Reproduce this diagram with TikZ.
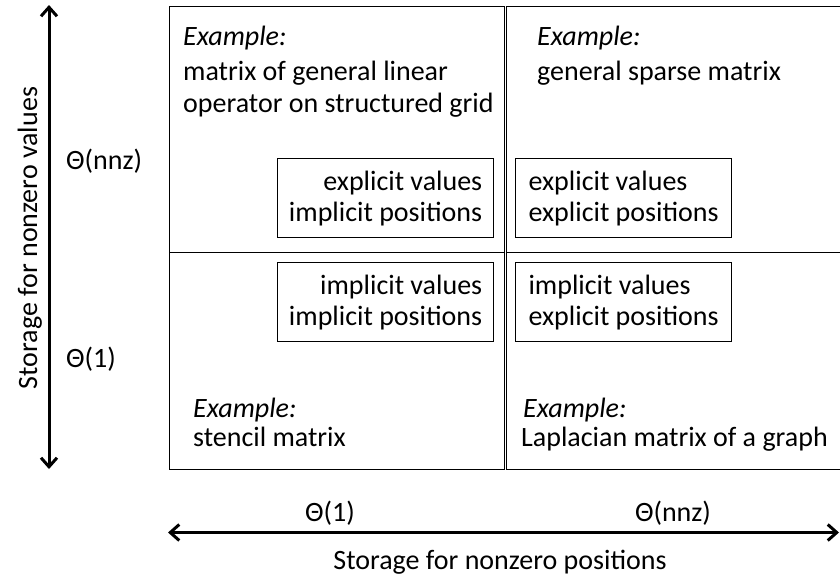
\documentclass[tikz,border=0pt]{standalone}
\usepackage{fontspec}
\setmainfont{Carlito}
\usetikzlibrary{arrows.meta}
\begin{document}
\begin{tikzpicture}[x=1pt,y=-1pt,
  quad/.style={draw, line width=1.2pt, rectangle, inner sep=0pt},
  valbox/.style={draw, line width=1.2pt, rectangle, minimum width=216pt, minimum height=79pt, inner sep=4pt, font=\fontsize{28}{31}\selectfont},
  lbl/.style={inner sep=0pt, font=\fontsize{28}{33}\selectfont},
  axis/.style={line width=3pt, {Straight Barb[length=9pt,width=16pt,line width=3pt]}-{Straight Barb[length=9pt,width=16pt,line width=3pt]}}
]
\useasboundingbox (0,0) rectangle (840,576);
\fill[white] (0,0) rectangle (840,576);
% quadrants
\node[quad, minimum width=335.5pt, minimum height=246.5pt, anchor=north west] (tl) at (168.5,5.5) {};
\node[quad, minimum width=335.5pt, minimum height=216.5pt, anchor=north west] (bl) at (168.5,252) {};
\node[quad, minimum width=344pt, minimum height=246.5pt, anchor=north west] (tr) at (506,5.5) {};
\node[quad, minimum width=344pt, minimum height=216.5pt, anchor=north west] (br) at (506,252) {};
% inner boxes
\node[valbox, align=right, anchor=north west] (b1) at (277,158) {explicit values\\implicit positions};
\node[valbox, align=left, anchor=north west] (b2) at (515,158) {explicit values\\explicit positions};
\node[valbox, align=right, anchor=north west] (b3) at (277,262) {implicit values\\implicit positions};
\node[valbox, align=left, anchor=north west] (b4) at (515,262) {implicit values\\explicit positions};
% examples
\node[lbl, anchor=base west] (e1) at (183,45) {\itshape Example:};
\node[lbl, anchor=base west] (e1a) at (183,80) {matrix of general linear};
\node[lbl, anchor=base west] (e1b) at (183,112) {operator on structured grid};
\node[lbl, anchor=base west] (e2) at (537,45) {\itshape Example:};
\node[lbl, anchor=base west] (e2a) at (537,80) {general sparse matrix};
\node[lbl, anchor=base west] (e3) at (193,417) {\itshape Example:};
\node[lbl, anchor=base west] (e3a) at (193,446) {stencil matrix};
\node[lbl, anchor=base west] (e4) at (523,417) {\itshape Example:};
\node[lbl, anchor=base west] (e4a) at (521,446) {Laplacian matrix of a graph};
% vertical axis
\coordinate (vtop) at (49,5);
\coordinate (vbot) at (49,469);
\draw[axis] (vbot) -- (vtop);
\node[lbl, rotate=90, anchor=base] (vlab) at (37,238) {Storage for nonzero values};
\node[lbl, anchor=base west] (t1) at (66,169) {Θ(nnz)};
\node[lbl, anchor=base west] (t2) at (66,367) {Θ(1)};
% horizontal axis
\coordinate (hl) at (168,532.5);
\coordinate (hr) at (839,532.5);
\draw[axis] (hl) -- (hr);
\node[lbl, anchor=base] (h1) at (330,521) {Θ(1)};
\node[lbl, anchor=base] (h2) at (673,521) {Θ(nnz)};
\node[lbl, anchor=base] (hlab) at (500,569) {Storage for nonzero positions};
\end{tikzpicture}
\end{document}
